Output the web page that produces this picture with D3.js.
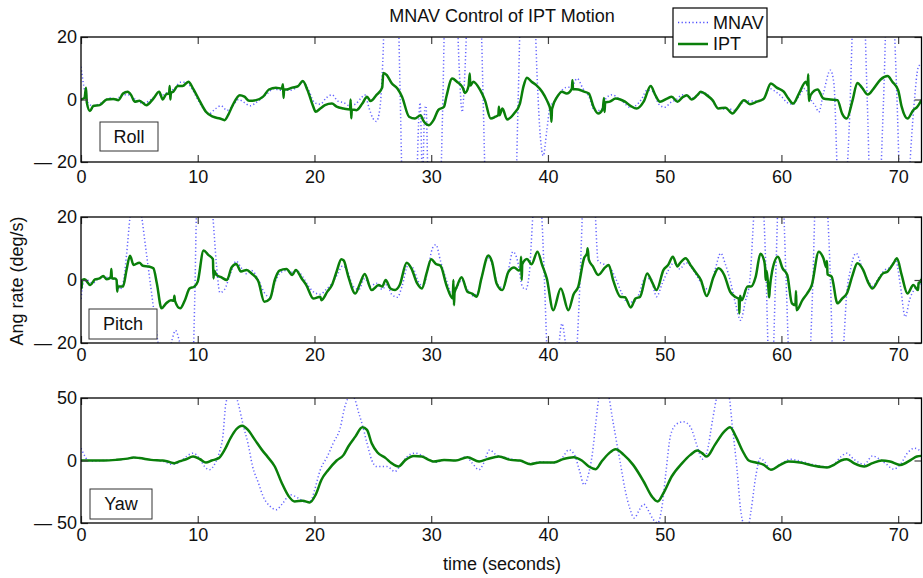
<!DOCTYPE html>
<html>
<head>
<meta charset="utf-8">
<script src="https://cdn.jsdelivr.net/npm/d3@7"></script>
<style>
  body { margin: 0; background: #fff; }
  text { font-family: "Liberation Sans", Arial, Helvetica, sans-serif; }
</style>
</head>
<body>
<div id="chart"></div>
<script>
// Time axis and labels
const timeTicks = [0, 10, 20, 30, 40, 50, 60, 70];
const panelNames = ['Roll', 'Pitch', 'Yaw'];
const seriesNames = ['MNAV', 'IPT'];
const rollTicks = [-20, 0, 20];
const pitchTicks = [-20, 0, 20];
const yawTicks = [-50, 0, 50];

// [time (s), angular rate (deg/s)]
const rollIpt = [[0,0],[0.3,0.5],[0.43,3.8],[0.5,-1],[0.77,-3.7],[1.05,-2.1],[1.6,-1.8],[2.2,0],[2.8,0.2],[3.2,-0.2],[3.6,1.9],[4.0,2.5],[4.3,1.4],[4.6,-0.7],[5.0,-0.4],[5.6,-1.8],[6.2,0.3],[6.7,2.5],[7.0,0],[7.3,1.7],[7.55,2],[7.6,4.3],[7.65,0],[7.7,2],[7.9,2.5],[8.3,4.3],[8.7,4.3],[9.2,5.7],[9.6,3.5],[10.2,-0.7],[10.7,-3.9],[11.3,-5.5],[11.9,-6.1],[12.3,-6.6],[12.6,-5],[13.0,-1.8],[13.6,1.4],[14.0,0.9],[14.4,-0.4],[15.0,-0.2],[15.6,0.9],[16.1,3.2],[16.7,3.8],[17.2,3.5],[17.3,4.9],[17.35,0.5],[17.4,3.2],[17.6,3.2],[18.1,3.8],[18.6,4.3],[19.0,5.9],[19.4,3],[19.9,-2.3],[20.1,-3.9],[20.5,-2.9],[20.9,-1.8],[21.5,-1.3],[21.9,-2.3],[22.5,-2.9],[23.05,-3.2],[23.1,0],[23.15,-6],[23.2,-3.2],[23.6,-3.4],[24.1,-1.3],[24.5,0.9],[24.8,-0.5],[25.3,1.4],[25.8,3.8],[25.9,8.5],[26.2,7.8],[26.6,5.3],[27.1,3.5],[27.5,0.9],[28.1,-5.5],[28.6,-6.1],[29.1,-5.0],[29.3,-6.6],[29.8,-8.2],[30.2,-6.6],[30.6,-3.4],[31.1,-2.3],[31.3,0.9],[31.8,6.7],[32.2,5.7],[32.7,3.8],[32.9,2.1],[33.2,4.3],[33.3,8.3],[33.35,4.5],[33.6,5.7],[34.2,3],[34.6,-0.2],[35.1,-6.1],[35.5,-5.5],[35.75,-5],[35.8,-2.3],[35.85,-5],[36.1,-2.9],[36.5,-6.4],[37.1,-4.5],[37.6,-1.3],[37.9,4.1],[38.2,7.0],[38.6,5.7],[39.0,4.6],[39.5,2.5],[39.9,-0.2],[40.25,-3.9],[40.3,-7.1],[40.35,-3],[40.8,0.9],[41.2,2.5],[41.6,1.9],[42.05,3.5],[42.1,6.2],[42.15,3.3],[42.6,3.2],[43.1,2.5],[43.5,1.9],[43.9,-2.3],[44.3,-4.5],[44.7,-3],[44.8,0.5],[44.85,-4],[44.9,-1],[45.3,-0.7],[45.8,0.3],[46.2,0],[46.6,-0.7],[47.1,-2.1],[47.6,-2.9],[48.2,-0.7],[48.8,4.3],[49.2,1.4],[49.6,-0.7],[50.2,0.3],[50.6,0.9],[51.1,-0.7],[51.5,0.6],[51.9,1.4],[52.3,0],[52.8,1.4],[53.1,2.5],[53.6,1.4],[54.1,-0.2],[54.6,-2.9],[55.2,-2.6],[55.8,-4.5],[56.2,-2.9],[56.8,-0.2],[57.3,-1.5],[57.9,-0.7],[58.5,0.3],[59.1,5.1],[59.6,3.8],[60.2,2.5],[60.6,0.3],[61.0,-1.3],[61.5,1.9],[62.1,5.7],[62.25,4.5],[62.3,8.1],[62.35,-0.5],[62.5,1.4],[63.1,3.2],[63.6,0.3],[64.2,0],[64.8,-0.2],[65.2,-4.5],[65.6,-6.1],[66.1,-0.2],[66.5,5.3],[66.9,3.8],[67.4,1.6],[67.9,3.5],[68.5,6.4],[69.1,7.5],[69.5,5.7],[70.0,3],[70.3,-2.3],[70.8,-6.1],[71.3,-3.4],[71.6,-2.5],[72,-0.2]];

const rollMnav = [[0,10.5],[0.3,3],[0.6,-1],[1.0,-2],[1.5,-1.5],[2.0,-0.5],[2.5,0.5],[3.0,-0.3],[3.5,1.5],[4.0,1.5],[4.5,0.5],[5.0,-1],[5.5,-1],[6.0,0],[6.5,1.5],[7.0,1.5],[7.5,2.5],[8.0,3.5],[8.5,5.5],[9.0,5.5],[9.5,3.5],[10.0,0],[10.5,-3],[11.0,-4.5],[11.5,-3],[12.0,-2],[12.5,-3.5],[13.0,-2],[13.5,0],[14.0,-1],[14.5,-2],[15.0,-1],[15.5,0.5],[16.0,2],[16.5,3.5],[17.0,3],[17.5,3],[18.0,3],[18.5,4],[19.0,5.5],[19.5,3],[20.0,-1],[20.5,-1.5],[21.0,0.5],[21.5,1.5],[22.0,-0.5],[22.5,-1],[23.0,-2],[23.5,-1.5],[24.0,0.5],[24.3,1.5],[24.7,-3],[25.0,-6],[25.3,-7],[25.6,-3],[25.85,12],[26.1,40],[26.7,60],[27.1,40],[27.35,0],[27.6,-40],[28.2,-60],[28.7,-35],[28.95,-5],[29.05,-1],[29.25,-25],[29.45,-3],[29.55,-2],[29.8,-40],[30.3,-60],[30.75,-35],[31.0,0],[31.2,35],[31.7,55],[32.15,35],[32.4,10],[32.65,-4],[32.9,10],[33.15,35],[33.7,55],[34.2,35],[34.45,0],[34.7,-35],[35.5,-60],[36.5,-60],[37.2,-35],[37.45,0],[37.7,35],[38.3,55],[38.85,30],[39.1,5],[39.35,-12],[39.6,-18],[39.9,-10],[40.2,-2],[40.5,-1],[41.0,2],[41.5,3.8],[42.0,4],[42.5,6.7],[43.0,3.5],[43.5,1],[44.0,-3.5],[44.5,-3.5],[45.0,0.5],[45.5,1.5],[46.0,0.5],[46.5,-1],[47.0,-2.5],[47.5,-2],[48.0,0],[48.5,3],[49.0,2.5],[49.5,-1.5],[50.0,-2.5],[50.5,-1],[51.0,0],[51.5,1.5],[52.0,1],[52.5,0.5],[53.0,2],[53.5,2],[54.0,0],[54.5,-2.5],[55.0,-3],[55.5,-3],[56.0,-3.5],[56.5,-1.5],[57.0,-0.5],[57.5,-0.5],[58.0,-0.5],[58.5,0.5],[59.0,3.5],[59.5,2.5],[60.0,1],[60.5,-1],[61.0,-1.5],[61.5,1],[62.0,3.5],[62.5,0],[62.9,-2],[63.2,-4],[63.6,2],[64.2,9.4],[64.5,5],[64.8,-25],[65.2,-50],[65.6,-25],[65.85,-5],[66.1,25],[66.6,50],[67.0,40],[67.35,0],[67.8,-50],[68.3,-40],[68.75,0],[69.2,50],[69.6,30],[69.9,0],[70.3,-40],[70.7,-40],[71.1,-15],[71.4,0],[71.7,10],[72,11.6]];

const pitchIpt = [[0,0],[0.05,-2.7],[0.1,0],[0.3,0.2],[0.8,-1.6],[1.2,0.2],[1.6,0.5],[1.9,1.3],[2.2,0.2],[2.55,0.9],[2.6,3.5],[2.65,0.5],[2.9,0.5],[3.05,0],[3.1,-3.7],[3.15,-2],[3.3,-2.1],[3.6,-2.1],[3.9,3.2],[4.2,7.7],[4.5,4.8],[5.0,5.5],[5.3,4.5],[5.8,4.3],[6.2,3.7],[6.5,-1.1],[6.9,-9.0],[7.3,-7.4],[7.7,-6.4],[7.95,-6.6],[8.0,-5],[8.05,-6.6],[8.5,-9.0],[8.9,-6.4],[9.3,-2.7],[9.7,-2.1],[10.0,-0.5],[10.5,9.4],[10.9,8.0],[11.3,6.6],[11.35,0.5],[11.4,3],[11.6,1.6],[12.0,0.9],[12.5,0],[12.9,4.0],[13.3,5.1],[13.7,2.7],[14.2,3.2],[14.6,2.1],[15.2,-0.5],[15.7,-6.9],[16.2,-5.9],[16.6,0],[17.0,3.0],[17.6,3.5],[18.1,1.6],[18.4,3.2],[18.9,0.5],[19.3,-1.6],[19.9,-5.9],[20.5,-5.3],[20.6,-6.4],[21.1,-3.7],[21.5,-1.6],[21.9,2.7],[22.3,6.6],[22.5,6.2],[22.9,1.1],[23.5,-4.3],[23.9,-1.1],[24.3,1.9],[24.9,-3.2],[25.5,-1.6],[25.8,-2.1],[26.1,0],[26.5,-2.7],[26.9,-3.2],[27.3,-1.6],[27.9,5.5],[28.3,3.7],[28.8,-1.1],[29.2,-2.7],[29.6,2.1],[30.0,6.6],[30.4,5.1],[30.8,4.5],[31.3,-1.6],[31.85,-5.9],[31.9,0],[31.95,-8],[32.0,-4],[32.2,-2.1],[32.6,0.9],[33.1,-3.7],[33.5,-4.3],[33.9,-5.3],[34.3,0.5],[34.9,7.8],[35.2,5.9],[35.6,-1.1],[36.1,-3.2],[36.6,2.5],[37.1,4.0],[37.5,3.0],[37.65,3.5],[37.7,7.4],[37.75,0],[37.8,5],[38.2,6.7],[38.6,5],[39.1,9.0],[39.5,4.8],[39.9,0.5],[40.45,-9.6],[41.1,-2.7],[41.75,-9.6],[42.2,-4.5],[42.6,-2.1],[43.1,7],[43.35,8.5],[43.4,10.1],[43.5,6.5],[43.85,4.3],[44.3,1.6],[44.9,4],[45.2,4.8],[45.6,-0.2],[46.2,-5.3],[46.6,-5.5],[47.1,-8.7],[47.5,-5.9],[47.9,-5.3],[48.5,2.1],[48.9,-0.5],[49.3,-3.2],[49.9,3.2],[50.3,4.8],[50.7,7.4],[51.1,4.3],[51.3,5.3],[51.8,6.9],[52.2,4.8],[52.6,2.7],[53.1,0],[53.6,-5.1],[54.2,1.1],[54.6,3.7],[55.1,1.6],[55.6,-3.7],[56.1,-5.5],[56.35,-6],[56.4,-10.6],[56.45,-5],[56.6,-6.4],[57.1,-2.1],[57.4,-2.1],[57.8,1.1],[58.2,8.3],[58.5,6.4],[58.6,4],[58.65,0],[58.7,3],[58.9,-3.2],[58.95,-5.5],[59.0,-3],[59.2,2.7],[59.7,7.4],[60.1,3.7],[60.5,1.6],[60.9,-7.4],[61.2,-8],[61.25,-3.5],[61.3,-9.6],[61.8,-6.4],[62.2,-4.3],[62.6,-1.6],[63.2,9.0],[63.6,6.9],[63.85,4],[63.9,6],[63.95,1.8],[64.3,1.1],[64.8,-7.4],[65.2,-5.9],[65.6,-4.3],[66.1,1.6],[66.5,5.3],[67.0,3.2],[67.4,-0.5],[67.8,-2.7],[68.3,0],[68.7,2.1],[69.1,2.7],[69.6,5.3],[69.9,6.9],[70.3,1.6],[70.8,-4.3],[71.3,-1.6],[71.7,-3.2],[71.75,-1],[71.9,-0.5],[72,0.3]];

const pitchMnav = [[0,-6],[0.2,-1],[0.5,0],[1,-1],[1.5,0.5],[2,1],[2.5,0.5],[3,0],[3.3,-3],[3.6,-1],[3.9,8],[4.2,20],[4.7,30],[5.2,20],[5.55,10],[5.9,0],[6.25,-10],[6.6,-20],[7.0,-28],[7.4,-26],[7.8,-19],[8.1,-16],[8.4,-19],[8.8,-26],[9.3,-28],[9.6,-24],[9.75,-5],[9.9,22],[10.4,40],[10.9,35],[11.3,20],[11.6,5],[11.9,-4],[12.3,-3],[12.8,2],[13.3,6],[13.7,4],[14.2,2],[14.6,3],[15.2,0],[15.7,-4],[16.2,-5.5],[16.6,-1],[17,2],[17.6,3],[18.1,2.5],[18.5,3],[19,1],[19.5,-2],[20,-4],[20.5,-4.5],[21,-3],[21.5,-1],[22,2],[22.4,4.5],[22.8,3],[23.3,-2],[23.8,-3],[24.3,0.5],[24.8,-2],[25.3,-1],[25.8,-3],[26.2,-1.5],[26.6,-4.5],[27.1,-5.5],[27.5,-2],[28.0,4.5],[28.4,4],[28.9,-0.5],[29.3,-2],[29.7,3],[30.1,10],[30.4,11.2],[30.8,6],[31.3,0],[31.8,-4.5],[32.2,-2.5],[32.6,0],[33.1,-3],[33.6,-5],[34,-4],[34.4,2],[34.9,7],[35.3,4],[35.7,-1.5],[36.2,-2.5],[36.6,3],[37.0,9],[37.4,6],[37.8,-2],[38.1,-3],[38.4,2],[38.7,20],[39.0,35],[39.4,25],[39.7,0],[39.95,-25],[40.4,-40],[40.9,-22],[41.2,-13.8],[41.5,-20],[42.0,-35],[42.5,-20],[42.75,0],[43.0,25],[43.5,40],[44.0,25],[44.3,6],[44.8,5],[45.3,4],[45.8,0.5],[46.3,-4],[46.8,-7],[47.3,-7],[47.8,-4.5],[48.3,0.5],[48.8,0.5],[49.3,-5.3],[49.8,-1],[50.3,3],[50.8,5.5],[51.3,3.5],[51.8,5.5],[52.3,4],[52.8,1],[53.3,-2],[53.8,-3],[54.3,3],[54.8,8.5],[55.2,5],[55.6,0],[56.1,-8],[56.5,-12.8],[56.9,-7],[57.3,0],[57.55,15],[57.8,30],[58.2,32],[58.5,20],[58.7,0],[58.9,-25],[59.2,-30],[59.5,0],[59.8,30],[60.1,28],[60.4,0],[60.7,-30],[61.3,-45],[62,-40],[62.5,-20],[62.7,0],[62.9,25],[63.4,40],[63.9,25],[64.2,0],[64.4,-25],[64.9,-35],[65.3,-22],[65.6,-4],[65.9,3],[66.4,8.5],[66.9,4],[67.4,0],[67.8,-2],[68.3,0.5],[68.8,3],[69.3,4],[69.8,6],[70.2,-2],[70.6,-11.7],[71,-6],[71.4,-3],[71.8,-2],[72,1]];

const yawIpt = [[0,0],[1,0],[2,0],[3,0.5],[4,1.5],[4.5,2.4],[5,2],[6,0.5],[7,0],[7.5,-1],[8,-2.1],[8.5,-0.5],[9,1],[9.6,3.2],[10.2,1],[10.7,-1.6],[11.2,0],[11.8,1.9],[12.3,8.5],[12.8,17.8],[13.3,25],[13.8,27.9],[14.3,24.5],[14.9,16.5],[15.5,8.5],[16,2.7],[16.6,-4.8],[17.2,-18],[17.8,-28.7],[18.3,-32.7],[19,-32.2],[19.6,-33.5],[20.1,-27.4],[20.6,-15.4],[21.2,-7.4],[21.9,0],[22.5,4.5],[22.9,11.2],[23.5,19.1],[24.1,26.6],[24.5,24.5],[24.9,13.8],[25.4,6.4],[26.1,1.9],[26.6,-2.1],[27.2,-4.8],[27.8,0.5],[28.5,3.7],[29.2,3.2],[29.8,0.5],[30.2,-0.8],[31.1,0.5],[32.1,0],[33.1,2.7],[34.1,-0.8],[34.8,1.1],[35.8,3.2],[36.8,0.5],[37.6,0],[38.5,-2.9],[39.3,-1.6],[40.5,-1.6],[41.3,1.1],[42.2,2.7],[42.9,0],[43.5,-4.8],[44.1,-6.9],[44.6,-0.8],[45.2,5.5],[45.8,9.0],[46.5,4.5],[47.3,-3.5],[48.2,-16.8],[48.9,-28.7],[49.4,-32.7],[49.9,-26],[50.6,-12.8],[51.5,-2.1],[52.2,4.5],[52.8,8],[53.2,5.9],[53.6,3.2],[54.3,12.5],[55.1,23.1],[55.6,26.6],[56.1,19.1],[56.7,7.2],[57.2,0],[57.8,-1.6],[58.5,-3.5],[59.1,-7.4],[59.9,-3.5],[60.6,-0.8],[61.6,-1.6],[62.8,-4.3],[63.9,-5.6],[64.5,-3.5],[65.1,0],[65.6,1.1],[66.2,-2.1],[67.1,-4.8],[67.8,-2.1],[68.6,0],[69.3,-0.8],[70.2,-3.5],[71.1,0.5],[71.6,3.2],[72,3.7]];

const yawMnav = [[0,9.8],[0.3,4],[0.6,0],[1,-0.5],[2,0],[3,0.5],[4,1.5],[4.5,2.4],[5,2],[6,0.5],[7,-0.5],[7.8,-3],[8.5,-1],[9.0,3],[9.6,5.9],[10.2,1],[10.6,-5],[11.0,-7.4],[11.5,-2],[11.9,8],[12.15,19],[12.4,45],[12.9,58],[13.4,48],[13.9,28],[14.3,13.8],[14.7,-4.8],[15.2,-18],[15.6,-28.7],[16.2,-36.7],[16.7,-39.4],[17.3,-34],[17.9,-27.4],[18.6,-30],[19.3,-33.5],[19.7,-32],[20.0,-24],[20.5,-7.4],[21.1,3.2],[21.6,13.8],[22.2,25.8],[22.6,43],[23.1,52],[23.4,50],[23.8,37.8],[24.1,28.5],[24.5,13.8],[24.9,0.5],[25.3,-4.8],[26.2,-4.8],[26.9,-8.8],[27.3,-4.8],[27.9,2.7],[28.6,5.9],[29.3,3.7],[29.9,0],[30.5,-1.5],[31.1,0.5],[32.1,0],[33.0,3],[33.5,-2],[34.1,-7.4],[34.5,-2],[35.0,8.5],[35.5,5],[36.5,2],[37.5,0],[38.5,-2.5],[39.3,-1],[40.5,-2],[41.2,2],[41.8,8.5],[42.3,4],[42.7,-8],[43.1,-19.4],[43.5,-10],[43.8,5],[44.1,30],[44.4,52],[44.8,60],[45.2,52],[45.5,35],[45.8,19],[46.2,-2],[46.6,-23],[47.0,-38],[47.4,-46],[47.8,-40],[48.2,-35],[48.6,-40],[49.0,-47],[49.4,-50],[49.8,-35],[50.1,-10],[50.5,20],[51.0,29],[51.6,31],[52.2,27],[52.8,11],[53.2,1],[53.6,6],[54.1,32.4],[54.5,52],[55,60],[55.5,52],[55.8,27],[56.2,-7.4],[56.5,-39],[56.8,-52],[57.1,-55],[57.4,-40],[57.8,-12.8],[58.2,1.9],[58.6,-1.5],[59.1,-7.4],[59.9,-3],[60.8,1],[61.6,-0.5],[62.8,-3.5],[63.9,-5],[64.5,-3],[65.1,3],[65.6,5.9],[66.2,1],[67.1,-3],[67.8,3.7],[68.4,1],[69.0,-3],[69.6,-6.9],[70.2,-3],[70.8,6],[71.4,9.8],[72,7]];

// Layout
const width = 923, height = 578;
const left = 81, right = 921.5;
const fontSize = 18;
const panels = [
  { name: panelNames[0], ticks: rollTicks, ipt: rollIpt, mnav: rollMnav, top: 37, bottom: 162, pad: 8, box: [100, 122, 58, 29] },
  { name: panelNames[1], ticks: pitchTicks, ipt: pitchIpt, mnav: pitchMnav, top: 217, bottom: 343, pad: 5, box: [89, 309, 68, 30] },
  { name: panelNames[2], ticks: yawTicks, ipt: yawIpt, mnav: yawMnav, top: 398, bottom: 523, pad: 5, box: [90, 489, 62, 30] }
];

const svg = d3.select('#chart')
  .append('svg')
  .attr('width', width)
  .attr('height', height)
  .attr('viewBox', [0, 0, width, height]);

svg.append('rect').attr('width', width).attr('height', height).attr('fill', '#fff');

const x = d3.scaleLinear().domain([0, 72]).range([left, right]);

// MATLAB style minus: long dash then the number
const fmt = v => v < 0 ? '\u2014 ' + Math.abs(v) : String(v);

panels.forEach((p, i) => {
  const y = d3.scaleLinear().domain([p.ticks[0], p.ticks[2]]).range([p.bottom, p.top]);
  const g = svg.append('g');

  const clipId = 'clip' + i;
  svg.append('clipPath').attr('id', clipId)
    .append('rect')
    .attr('x', left).attr('y', p.top)
    .attr('width', right - left).attr('height', p.bottom - p.top);

  const line = d3.line()
    .x(d => x(d[0]))
    .y(d => y(d[1]))
    .curve(d3.curveMonotoneX);

  const plot = g.append('g').attr('clip-path', `url(#${clipId})`);

  plot.append('path')
    .datum(p.mnav)
    .attr('fill', 'none')
    .attr('stroke', '#4848ff')
    .attr('stroke-opacity', 0.85)
    .attr('stroke-width', 1.5)
    .attr('stroke-dasharray', '1.2,2.4')
    .attr('d', line);

  plot.append('path')
    .datum(p.ipt)
    .attr('fill', 'none')
    .attr('stroke', '#0a7f0a')
    .attr('stroke-width', 2.5)
    .attr('stroke-linejoin', 'round')
    .attr('d', line);

  // axes, ticks pointing inward
  const xb = g.append('g').attr('transform', `translate(0,${p.bottom})`)
    .call(d3.axisBottom(x).tickValues(timeTicks).tickSize(-7).tickPadding(p.pad));
  g.append('g').attr('transform', `translate(0,${p.top})`)
    .call(d3.axisTop(x).tickValues(timeTicks).tickSize(-7).tickFormat(''));
  g.append('g').attr('transform', `translate(${left},0)`)
    .call(d3.axisLeft(y).tickValues(p.ticks).tickSize(-7).tickPadding(4).tickFormat(fmt));
  g.append('g').attr('transform', `translate(${right},0)`)
    .call(d3.axisRight(y).tickValues(p.ticks).tickSize(-7).tickFormat(''));

  g.selectAll('.domain').remove();
  g.selectAll('.tick line').attr('stroke', '#444').attr('stroke-width', 1.2);
  g.selectAll('.tick text')
    .attr('font-size', fontSize)
    .attr('font-family', '"Liberation Sans", Arial, sans-serif')
    .attr('fill', '#111');

  g.append('rect')
    .attr('x', left).attr('y', p.top)
    .attr('width', right - left).attr('height', p.bottom - p.top)
    .attr('fill', 'none')
    .attr('stroke', '#000')
    .attr('stroke-width', 1.3);

  // panel name box
  const [bx, by, bw, bh] = p.box;
  g.append('rect')
    .attr('x', bx).attr('y', by).attr('width', bw).attr('height', bh)
    .attr('fill', '#fff').attr('stroke', '#333').attr('stroke-width', 1);
  g.append('text')
    .attr('x', bx + bw / 2).attr('y', by + bh / 2)
    .attr('dy', '0.36em')
    .attr('text-anchor', 'middle')
    .attr('font-size', fontSize)
    .attr('fill', '#111')
    .text(p.name);
});

// Title and axis labels
svg.append('text')
  .attr('x', 502).attr('y', 22)
  .attr('text-anchor', 'middle')
  .attr('font-size', fontSize)
  .attr('fill', '#111')
  .text('MNAV Control of IPT Motion');

svg.append('text')
  .attr('x', 502).attr('y', 570)
  .attr('text-anchor', 'middle')
  .attr('font-size', fontSize)
  .attr('fill', '#111')
  .text('time (seconds)');

svg.append('text')
  .attr('transform', 'translate(23,281) rotate(-90)')
  .attr('text-anchor', 'middle')
  .attr('font-size', fontSize)
  .attr('fill', '#111')
  .text('Ang rate (deg/s)');

// Legend
const legend = svg.append('g');
legend.append('rect')
  .attr('x', 673).attr('y', 8).attr('width', 94).attr('height', 49)
  .attr('fill', '#fff').attr('stroke', '#000').attr('stroke-width', 1.2);

const legendRows = [
  { name: seriesNames[0], y: 22.5, stroke: '#4848ff', dash: '1.2,2.4', w: 1.5 },
  { name: seriesNames[1], y: 44, stroke: '#0a7f0a', dash: null, w: 2.5 }
];
legendRows.forEach(r => {
  legend.append('line')
    .attr('x1', 678).attr('x2', 708)
    .attr('y1', r.y).attr('y2', r.y)
    .attr('stroke', r.stroke)
    .attr('stroke-width', r.w)
    .attr('stroke-dasharray', r.dash);
  legend.append('text')
    .attr('x', 713).attr('y', r.y)
    .attr('dy', '0.36em')
    .attr('font-size', fontSize)
    .attr('fill', '#111')
    .text(r.name);
});
</script>
</body>
</html>
